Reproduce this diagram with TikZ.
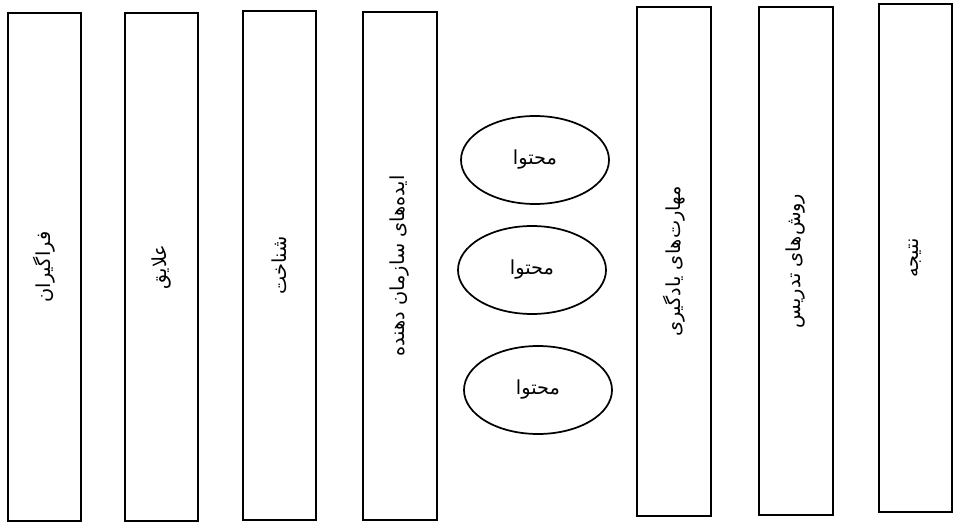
\documentclass[tikz,border=0pt]{standalone}
\usepackage{fontspec}
\usepackage{tikz}
\usetikzlibrary{shapes.geometric}
\TeXXeTstate=1
\newfontfamily\arabicfont[Script=Arabic]{DejaVu Sans}

\begin{document}
\begin{tikzpicture}[
  x=0.75pt, y=-0.75pt,
  col/.style={rectangle, draw=black, line width=1.5pt, fill=white,
              rotate=90, minimum width=381pt, minimum height=55pt,
              inner sep=0pt, font=\arabicfont\fontsize{14.5}{17}\selectfont},
  topic/.style={ellipse, draw=black, line width=1.3pt,
                minimum width=111pt, minimum height=66pt,
                inner sep=0pt, font=\arabicfont\fontsize{14.5}{17}\selectfont},
]
\useasboundingbox (0,0) rectangle (953,524);

% --- left columns ---
\node[col] (learners) at (44.5,267) {\beginR فراگیران\endR};
\node[col] (interests) at (161.5,267) {\beginR علایق\endR};
\node[col] (cognition) at (279.5,265.5) {\beginR شناخت\endR};
\node[col] (ideas) at (400,266) {\beginR ایده‌های سازمان دهنده\endR};

% --- content ---
\node[topic] (contentA) at (535,160) {\beginR محتوا\endR};
\node[topic] (contentB) at (532,270) {\beginR محتوا\endR};
\node[topic] (contentC) at (538,390) {\beginR محتوا\endR};

% --- right columns ---
\node[col] (skills) at (674,261.5) {\beginR مهارت‌های یادگیری\endR};
\node[col] (methods) at (796,261) {\beginR روش‌های تدریس\endR};
\node[col] (result) at (915.5,258) {\beginR نتیجه\endR};
\end{tikzpicture}
\end{document}
